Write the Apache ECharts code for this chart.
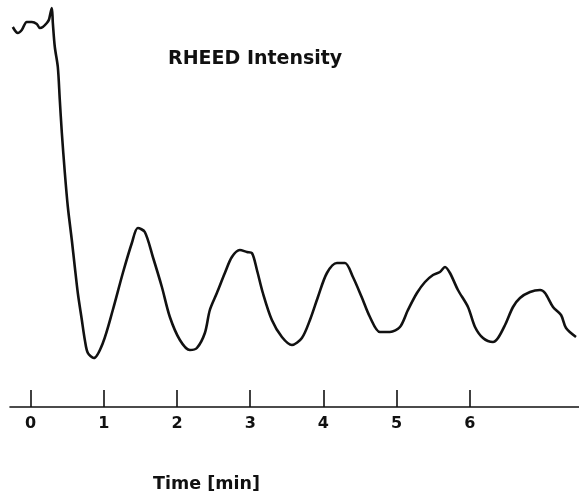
<!DOCTYPE html>
<html>
<head>
<meta charset="utf-8">
<script src="https://cdn.jsdelivr.net/npm/echarts@6/dist/echarts.min.js"></script>
<style>html,body{margin:0;padding:0;background:#fff}#c{width:579px;height:500px}</style>
</head>
<body>
<div id="c"></div>
<script>
var title = "RHEED Intensity";
var xName = "Time [min]";
var tickValues = [0, 1, 2, 3, 4, 5, 6];
var time = [-0.242, -0.173, -0.119, -0.051, 0.018, 0.086, 0.127, 0.168, 0.223, 0.250, 0.291, 0.305, 0.332, 0.373, 0.400, 0.428, 0.469, 0.510, 0.564, 0.605, 0.646, 0.701, 0.742, 0.783, 0.865,
  0.988, 1.124, 1.261, 1.384, 1.466, 1.561, 1.671, 1.794, 1.903, 2.040, 2.176, 2.272, 2.381, 2.449, 2.545, 2.654, 2.750, 2.859, 2.955,
  3.023, 3.092, 3.173, 3.296, 3.433, 3.570, 3.706, 3.816, 3.925, 4.048, 4.184, 4.294, 4.403, 4.522, 4.635, 4.772, 4.908, 5.045,
  5.154, 5.277, 5.387, 5.496, 5.591, 5.660, 5.728, 5.837, 5.974, 6.070, 6.179, 6.315, 6.384, 6.480, 6.589, 6.684, 6.821, 6.958, 7.026, 7.135, 7.245, 7.313, 7.449];
var intensity = [380, 374, 377, 385, 385, 383, 379, 380, 384, 387, 399, 384, 360, 340, 307, 274, 234, 200, 167, 140, 114, 87, 67, 54, 49,
  64, 97, 134, 164, 179, 175, 150, 120, 90, 67, 57, 59, 74, 97, 114, 134, 150, 157, 155,
  154, 137, 114, 87, 70, 62, 69, 87, 110, 134, 144, 144, 130, 110, 90, 75, 75, 80,
  97, 114, 125, 132, 135, 140, 134, 117, 100, 80, 69, 65, 69, 82, 100, 109, 115, 117, 114, 100, 92, 79, 70];

var pts = time.map(function (t, i) { return [t, intensity[i]]; });

var chart = echarts.init(document.getElementById('c'), null, {renderer: 'canvas'});
chart.setOption({
  animation: false,
  backgroundColor: '#fff',
  title: {
    text: title,
    left: 163, top: 45,
    textStyle: {fontFamily: 'DejaVu Sans', fontWeight: 'bold', fontSize: 19, color: '#111'}
  },
  grid: {left: 10, right: 0, top: 0, height: 407, containLabel: false},
  xAxis: {
    type: 'value', min: -0.28, max: 7.49,
    name: xName, nameLocation: 'middle', nameGap: 68,
    nameTextStyle: {fontFamily: 'DejaVu Sans', fontWeight: 'bold', fontSize: 17.5, color: '#111', padding: [0, 176, 0, 0]},
    axisLine: {show: true, onZero: false, lineStyle: {color: '#111', width: 1.6}},
    axisTick: {show: true, inside: true, length: 17, customValues: tickValues, lineStyle: {color: '#111', width: 1.6}},
    axisLabel: {show: true, customValues: tickValues, margin: 9, fontFamily: 'DejaVu Sans', fontWeight: 'bold', fontSize: 16, color: '#111'},
    splitLine: {show: false}
  },
  yAxis: {
    type: 'value', min: 0, max: 407, show: false,
    splitLine: {show: false}
  },
  series: [{
    type: 'line', data: pts, showSymbol: false, smooth: 0.3, clip: false,
    lineStyle: {color: '#111', width: 2.6}
  }]
});
</script>
</body>
</html>
